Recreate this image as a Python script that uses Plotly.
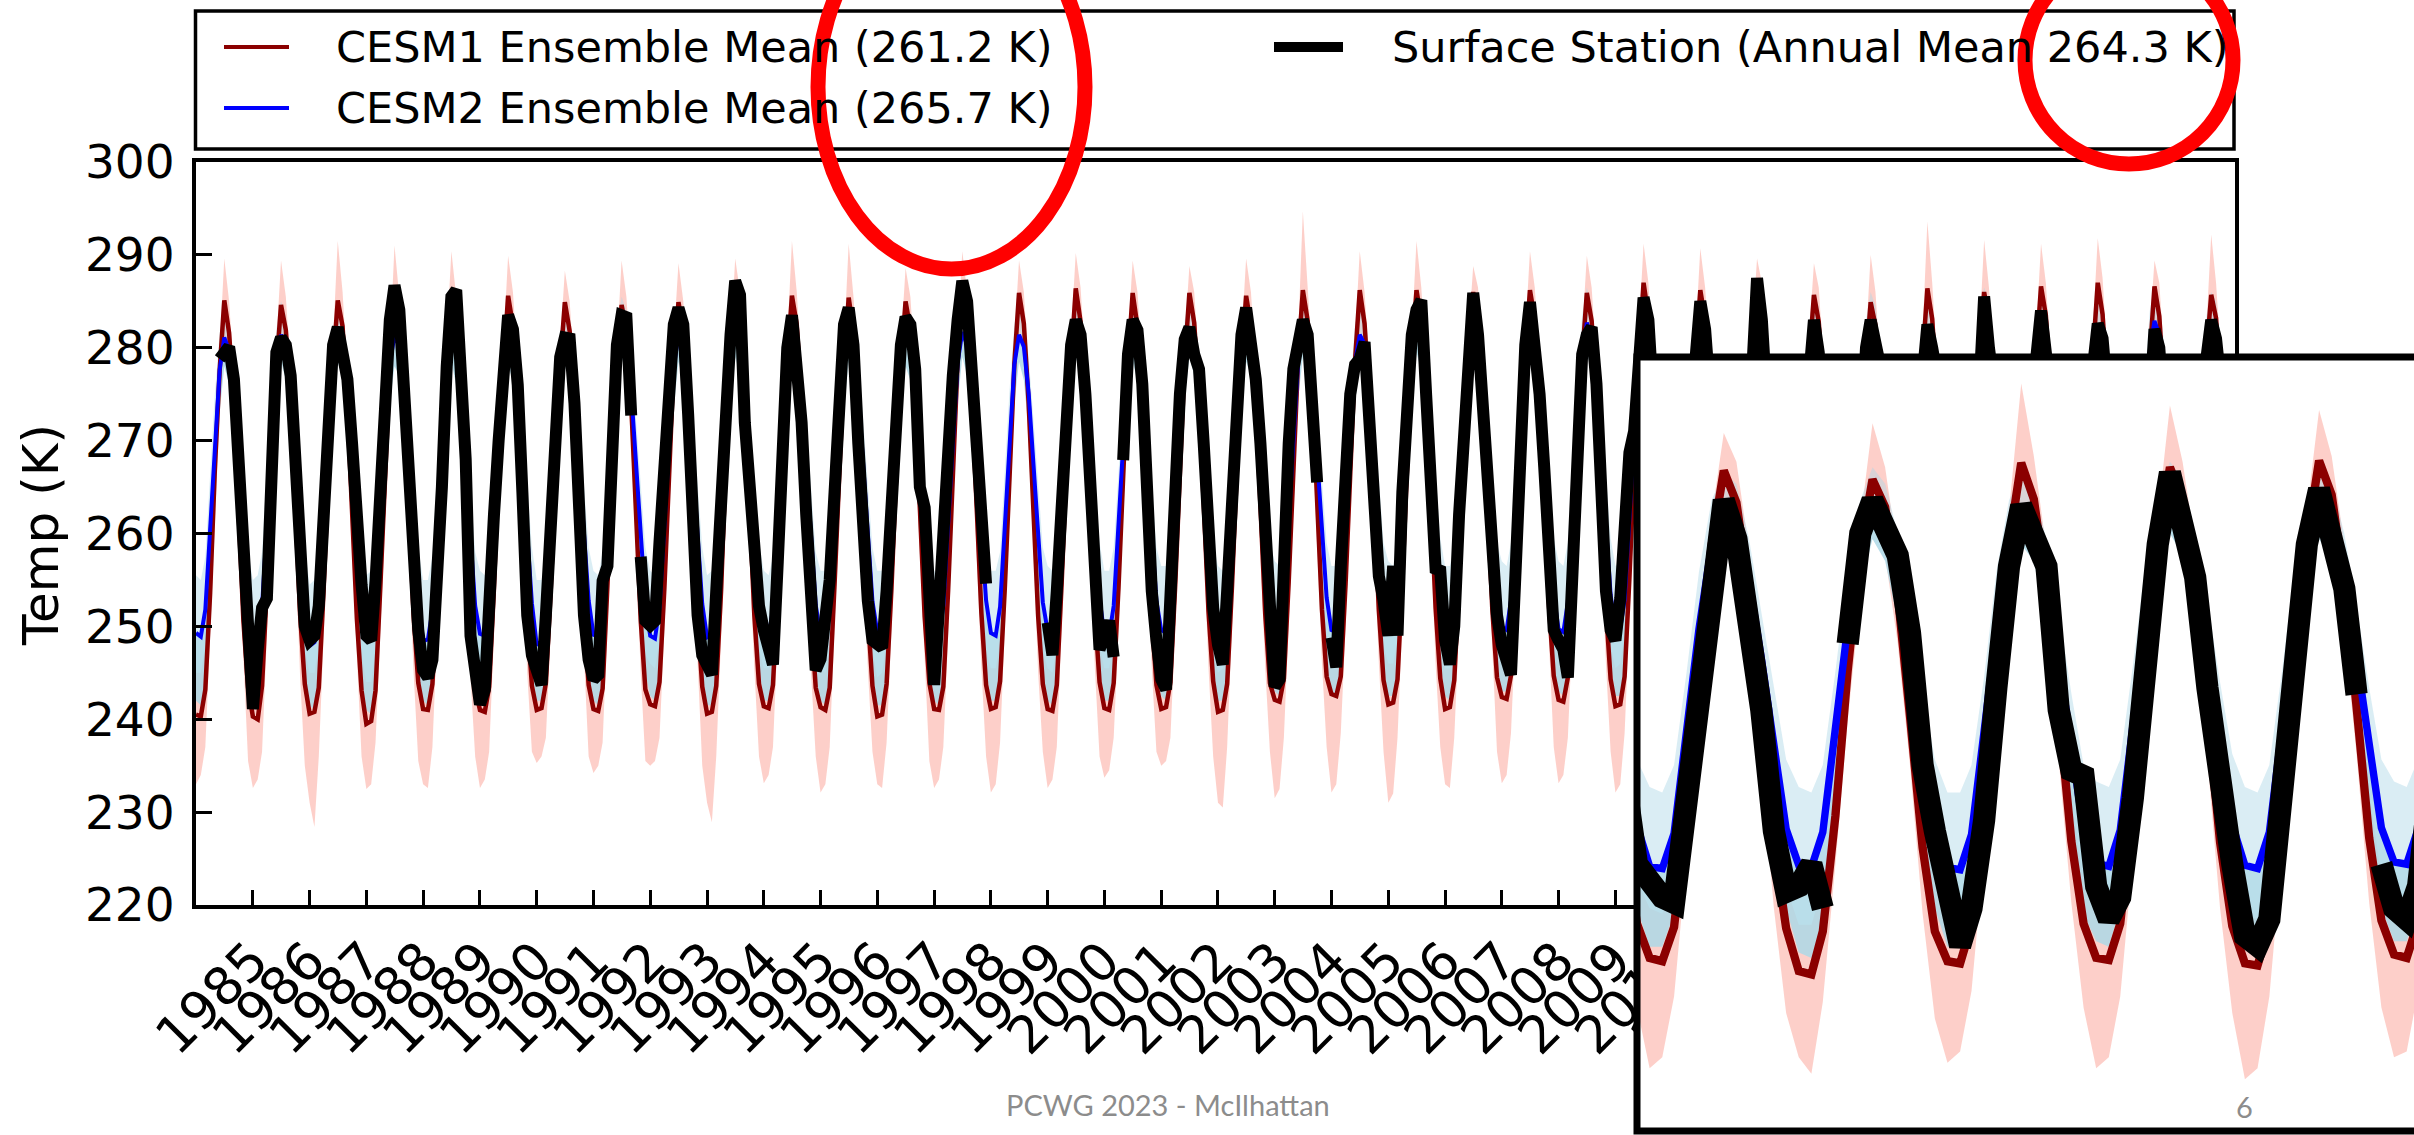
import pandas as pd
import plotly.graph_objects as go

# ---------------------------------------------------------------------------
# Monthly near-surface temperature (K), one row per year (Jan ... Dec)
# ---------------------------------------------------------------------------
years = [1984, 1985, 1986, 1987, 1988, 1989, 1990, 1991, 1992, 1993, 1994, 1995,
         1996, 1997, 1998, 1999, 2000, 2001, 2002, 2003, 2004, 2005, 2006, 2007,
         2008, 2009, 2010, 2011, 2012, 2013, 2014, 2015, 2016, 2017, 2018, 2019]

tick_years = [1985, 1986, 1987, 1988, 1989, 1990, 1991, 1992, 1993, 1994, 1995, 1996,
              1997, 1998, 1999, 2000, 2001, 2002, 2003, 2004, 2005, 2006, 2007, 2008,
              2009, 2010, 2011, 2012, 2013, 2014, 2015, 2016, 2017, 2018, 2019]
y_ticks = [220, 230, 240, 250, 260, 270, 280, 290, 300]

legend_cesm1 = "CESM1 Ensemble Mean (261.2 K)"
legend_cesm2 = "CESM2 Ensemble Mean (265.7 K)"
legend_station = "Surface Station (Annual Mean 264.3 K)"

cesm1_mean = [
    [240.5, 240.3, 243.2, 253.6, 266.8, 277.5, 285.1, 281.6, 273.8, 262.7, 250.6, 243.4],
    [240.3, 240.0, 243.6, 254.2, 266.5, 277.8, 284.6, 281.9, 274.2, 263.1, 251.2, 243.8],
    [240.6, 240.8, 243.4, 253.9, 267.3, 278.2, 285.1, 282.3, 273.6, 262.9, 250.8, 243.1],
    [239.5, 239.8, 243.1, 254.3, 266.9, 277.6, 285.5, 281.7, 274.1, 263.4, 251.3, 243.9],
    [241.1, 241.0, 243.8, 253.7, 267.1, 278.4, 285.3, 282.1, 273.9, 262.6, 250.9, 243.3],
    [241.0, 240.8, 243.5, 254.1, 267.4, 277.9, 285.6, 282.4, 274.3, 263.2, 251.1, 243.6],
    [241.0, 241.2, 243.9, 253.8, 266.7, 278.1, 284.9, 281.8, 273.7, 262.8, 251.4, 243.7],
    [241.1, 240.9, 243.3, 254.4, 267.2, 277.7, 284.6, 282.0, 274.0, 263.5, 250.7, 243.2],
    [241.6, 241.4, 244.0, 254.0, 266.9, 278.3, 284.9, 281.9, 274.4, 263.0, 251.0, 243.5],
    [240.6, 240.8, 243.6, 253.8, 267.5, 278.0, 285.5, 282.2, 273.8, 262.9, 251.2, 243.8],
    [241.4, 241.2, 243.7, 254.2, 267.0, 278.5, 285.6, 282.5, 274.2, 263.3, 250.9, 243.4],
    [241.3, 241.0, 243.4, 254.5, 267.3, 277.9, 285.4, 281.8, 273.9, 263.1, 251.3, 243.6],
    [240.3, 240.5, 243.8, 254.0, 267.1, 278.2, 285.0, 282.0, 274.1, 262.8, 251.0, 243.9],
    [241.1, 241.0, 243.5, 253.9, 267.6, 278.6, 285.6, 282.4, 274.3, 263.4, 251.4, 243.7],
    [241.1, 241.3, 244.1, 254.3, 267.2, 278.3, 285.9, 282.6, 274.0, 263.2, 251.1, 243.8],
    [241.1, 240.9, 243.7, 254.6, 267.8, 278.7, 286.4, 282.8, 274.5, 263.6, 251.5, 244.0],
    [241.2, 241.0, 243.9, 254.2, 267.4, 278.4, 285.9, 282.3, 274.2, 263.1, 251.2, 243.7],
    [241.1, 241.3, 244.0, 254.5, 267.6, 278.6, 285.9, 282.7, 274.6, 263.5, 251.6, 244.1],
    [240.8, 241.0, 243.8, 254.3, 267.3, 278.5, 285.6, 282.4, 274.3, 263.3, 251.3, 243.9],
    [242.1, 241.9, 244.4, 254.8, 267.9, 278.9, 286.2, 282.9, 274.7, 263.8, 251.8, 244.6],
    [242.7, 242.5, 244.6, 254.6, 267.7, 278.7, 286.2, 282.6, 274.5, 263.6, 251.7, 244.2],
    [241.6, 241.8, 244.3, 254.9, 268.0, 279.0, 286.2, 283.0, 274.8, 263.9, 252.0, 244.4],
    [241.1, 241.3, 244.2, 254.7, 267.8, 278.8, 286.0, 282.8, 274.6, 263.7, 251.8, 244.5],
    [242.4, 242.2, 244.7, 255.0, 268.1, 279.1, 286.2, 283.1, 275.0, 264.0, 252.1, 244.7],
    [242.1, 241.9, 244.5, 254.8, 267.9, 278.9, 285.9, 282.9, 274.8, 263.8, 251.9, 244.3],
    [241.4, 241.6, 244.6, 255.2, 268.3, 279.3, 287.0, 283.4, 275.1, 264.2, 252.3, 244.8],
    [241.8, 241.6, 244.4, 254.9, 268.0, 279.0, 286.2, 283.0, 274.9, 263.9, 252.0, 244.5],
    [242.0, 241.8, 244.8, 255.1, 268.2, 279.2, 286.0, 283.2, 275.2, 264.1, 252.2, 244.6],
    [241.5, 241.2, 244.3, 254.7, 267.9, 278.9, 285.7, 282.8, 274.7, 263.7, 251.8, 244.2],
    [240.3, 240.0, 243.9, 254.4, 267.5, 278.5, 284.9, 282.4, 274.4, 263.4, 251.5, 243.9],
    [241.2, 241.0, 244.5, 255.0, 268.1, 279.1, 286.4, 283.1, 274.9, 264.0, 252.1, 244.6],
    [241.5, 241.3, 244.6, 254.9, 268.0, 279.0, 286.0, 283.0, 275.0, 263.9, 252.0, 244.4],
    [241.0, 240.8, 244.4, 255.2, 268.4, 279.4, 286.6, 283.5, 275.3, 264.3, 252.4, 244.9],
    [241.8, 241.5, 244.7, 255.3, 268.5, 279.5, 287.0, 283.6, 275.4, 264.4, 252.5, 245.0],
    [242.0, 241.8, 244.9, 255.1, 268.3, 279.3, 286.6, 283.4, 275.2, 264.2, 252.3, 244.8],
    [242.2, 242.0, 245.0, 255.4, 268.6, 279.6, 285.7, 283.2, 275.1, 264.3, 252.4, 245.1],
]

cesm2_mean = [
    [249.3, 248.9, 251.8, 260.7, 270.2, 277.6, 281.1, 279.7, 274.6, 267.8, 259.2, 252.3],
    [248.5, 248.7, 252.1, 261.2, 270.6, 278.1, 281.4, 280.1, 275.2, 268.1, 259.6, 252.6],
    [247.9, 248.3, 251.9, 260.9, 270.4, 277.9, 281.6, 279.9, 274.9, 267.9, 259.4, 252.4],
    [248.8, 249.1, 252.3, 261.3, 270.8, 278.3, 281.3, 280.2, 275.1, 268.2, 259.7, 252.7],
    [248.4, 248.6, 251.7, 260.8, 270.3, 277.8, 281.5, 279.8, 274.7, 267.7, 259.3, 252.2],
    [249.2, 249.0, 252.2, 261.1, 270.7, 278.2, 281.2, 280.0, 275.0, 268.0, 259.5, 252.5],
    [248.0, 248.4, 251.8, 261.0, 270.5, 278.0, 281.1, 279.9, 274.8, 267.9, 259.6, 252.8],
    [249.1, 248.9, 252.0, 261.2, 270.6, 278.3, 281.8, 280.3, 275.3, 268.3, 259.8, 252.6],
    [249.0, 248.7, 252.1, 261.0, 270.4, 277.9, 281.5, 280.0, 275.1, 268.1, 259.5, 252.4],
    [248.8, 249.0, 252.3, 261.4, 270.9, 278.4, 281.9, 280.4, 275.4, 268.4, 259.9, 252.9],
    [249.2, 248.8, 251.9, 260.9, 270.3, 277.8, 281.3, 279.8, 274.9, 267.8, 259.4, 252.3],
    [249.0, 249.2, 252.2, 261.3, 270.7, 278.2, 281.6, 280.2, 275.2, 268.2, 259.7, 252.7],
    [249.4, 249.1, 252.0, 261.0, 270.5, 278.0, 281.2, 279.9, 274.9, 268.0, 259.5, 252.5],
    [249.1, 248.9, 252.3, 261.4, 270.8, 278.4, 281.7, 280.3, 275.3, 268.3, 259.8, 252.8],
    [249.3, 249.0, 252.1, 261.2, 270.6, 278.2, 281.4, 280.1, 275.1, 268.1, 259.6, 252.6],
    [249.5, 249.2, 252.4, 261.5, 270.9, 278.5, 281.8, 280.4, 275.4, 268.4, 259.9, 252.9],
    [249.2, 249.0, 252.2, 261.3, 270.7, 278.3, 281.5, 280.2, 275.2, 268.2, 259.7, 252.7],
    [249.6, 249.3, 252.5, 261.6, 271.0, 278.6, 281.9, 280.5, 275.5, 268.5, 260.0, 253.0],
    [249.4, 249.1, 252.3, 261.4, 270.8, 278.4, 281.6, 280.3, 275.3, 268.3, 259.8, 252.8],
    [250.1, 249.8, 252.6, 261.7, 271.1, 278.7, 282.0, 280.6, 275.6, 268.6, 260.1, 253.1],
    [249.6, 249.4, 252.4, 261.5, 270.9, 278.5, 281.4, 280.4, 275.4, 268.4, 259.9, 252.9],
    [249.8, 249.5, 252.7, 261.8, 271.2, 278.8, 282.2, 280.7, 275.7, 268.7, 260.2, 253.2],
    [249.5, 249.3, 252.5, 261.6, 271.0, 278.6, 281.8, 280.5, 275.5, 268.5, 260.0, 253.0],
    [249.9, 249.6, 252.8, 261.9, 271.3, 278.9, 282.1, 280.8, 275.8, 268.8, 260.3, 253.3],
    [249.7, 249.4, 252.6, 261.8, 271.4, 279.1, 282.7, 281.0, 275.9, 268.9, 260.4, 253.4],
    [249.6, 249.8, 252.9, 262.0, 271.5, 279.0, 282.3, 280.9, 275.9, 268.9, 260.4, 253.4],
    [249.8, 249.5, 252.7, 261.8, 271.2, 278.8, 281.9, 280.6, 275.6, 268.6, 260.1, 253.1],
    [250.0, 249.7, 253.0, 262.1, 271.6, 279.2, 282.4, 281.0, 276.0, 269.0, 260.5, 253.5],
    [249.8, 249.6, 252.8, 261.9, 271.3, 278.9, 282.0, 280.7, 275.7, 268.7, 260.2, 253.2],
    [249.9, 249.7, 252.9, 262.0, 271.5, 279.1, 282.2, 280.9, 275.9, 268.9, 260.4, 253.4],
    [249.7, 249.5, 252.7, 261.8, 271.2, 278.8, 281.7, 280.6, 275.6, 268.6, 260.1, 253.1],
    [250.1, 249.8, 253.1, 262.2, 271.7, 279.3, 282.5, 281.1, 276.1, 269.1, 260.6, 253.6],
    [249.9, 249.6, 252.9, 262.0, 271.4, 279.0, 282.1, 280.8, 275.8, 268.8, 260.3, 253.3],
    [250.2, 250.0, 253.2, 262.3, 271.8, 279.4, 282.6, 281.2, 276.2, 269.2, 260.7, 253.7],
    [250.3, 250.1, 253.3, 262.4, 271.9, 279.6, 282.9, 281.4, 276.3, 269.3, 260.8, 253.8],
    [250.1, 249.9, 253.1, 262.2, 271.6, 279.2, 282.3, 281.0, 276.0, 269.0, 260.5, 253.5],
]

# spread of the CESM1 members (lowest / highest member each month)
cesm1_lo = [
    [233.0, 234.0, 237.0, 249.0, 262.0, 273.0, 280.5, 277.0, 269.0, 258.0, 245.0, 235.5],
    [232.6, 233.5, 236.5, 249.5, 262.0, 273.5, 280.0, 277.5, 269.5, 258.5, 244.5, 235.0],
    [231.0, 228.4, 236.0, 249.0, 262.5, 274.0, 280.5, 277.0, 269.0, 258.0, 245.5, 236.0],
    [232.5, 233.0, 237.5, 249.0, 261.5, 273.0, 281.0, 277.5, 269.5, 258.0, 245.0, 235.5],
    [233.0, 232.6, 237.0, 249.5, 262.0, 274.0, 281.0, 277.0, 269.0, 257.5, 244.5, 236.0],
    [232.6, 233.5, 236.5, 249.0, 262.5, 273.5, 281.0, 278.0, 270.0, 258.5, 245.0, 236.5],
    [235.3, 236.0, 238.0, 249.5, 262.0, 273.5, 280.5, 277.5, 269.0, 258.0, 245.5, 236.0],
    [234.2, 235.0, 237.5, 250.0, 262.5, 273.0, 280.0, 277.5, 269.5, 258.5, 245.0, 235.5],
    [235.0, 235.5, 238.0, 249.5, 262.0, 274.0, 280.5, 277.0, 269.0, 258.0, 245.0, 235.0],
    [231.0, 228.9, 236.0, 249.0, 262.5, 273.5, 281.0, 277.5, 269.5, 258.0, 245.5, 236.0],
    [233.1, 234.0, 237.0, 249.5, 262.0, 274.0, 281.0, 278.0, 270.0, 258.5, 245.0, 236.0],
    [232.1, 233.0, 237.0, 250.0, 262.5, 273.5, 281.0, 277.5, 269.5, 258.5, 245.5, 236.5],
    [233.0, 232.6, 237.5, 249.5, 262.0, 273.5, 280.5, 277.5, 269.0, 258.0, 245.0, 235.5],
    [232.6, 233.5, 237.0, 249.0, 262.5, 274.0, 281.0, 278.0, 270.0, 258.5, 245.5, 236.0],
    [232.1, 233.0, 237.5, 250.0, 262.5, 274.0, 281.5, 278.0, 269.5, 258.5, 245.0, 236.5],
    [232.6, 233.5, 237.0, 250.0, 263.0, 274.5, 282.0, 278.5, 270.0, 259.0, 245.5, 236.0],
    [233.7, 234.5, 238.0, 249.5, 262.5, 274.0, 281.5, 278.0, 269.5, 258.5, 245.5, 236.5],
    [235.0, 235.5, 238.0, 250.0, 263.0, 274.0, 281.5, 278.0, 270.0, 259.0, 245.5, 236.0],
    [231.0, 230.5, 237.0, 250.0, 262.5, 274.0, 281.0, 278.0, 270.0, 258.5, 245.5, 236.5],
    [231.5, 232.5, 238.0, 250.5, 263.0, 274.5, 282.0, 278.5, 270.5, 259.0, 246.0, 237.0],
    [232.1, 233.0, 238.5, 250.0, 263.0, 274.0, 281.5, 278.0, 270.0, 259.0, 246.0, 236.5],
    [231.0, 232.0, 238.0, 250.5, 263.5, 274.5, 282.0, 278.5, 270.5, 259.5, 246.0, 237.0],
    [233.0, 232.6, 238.0, 250.0, 263.0, 274.5, 281.5, 278.5, 270.0, 259.0, 246.0, 236.5],
    [233.1, 234.0, 238.5, 250.5, 263.5, 274.5, 282.0, 278.5, 270.5, 259.5, 246.5, 237.0],
    [233.1, 234.0, 238.0, 250.5, 263.0, 274.5, 281.5, 278.5, 270.5, 259.0, 246.0, 236.5],
    [232.1, 233.0, 238.5, 251.0, 263.5, 275.0, 282.5, 279.0, 271.0, 259.5, 246.5, 237.0],
    [232.0, 233.5, 238.0, 250.5, 263.5, 274.5, 282.0, 278.5, 270.5, 259.5, 246.0, 236.5],
    [233.0, 232.0, 238.5, 251.0, 263.5, 275.0, 281.5, 279.0, 271.0, 259.5, 246.5, 237.0],
    [231.5, 232.5, 238.0, 250.5, 263.0, 274.5, 281.5, 278.5, 270.5, 259.0, 246.0, 236.5],
    [232.5, 231.0, 237.5, 250.0, 263.0, 274.0, 281.0, 278.0, 270.0, 259.0, 245.5, 236.0],
    [232.0, 233.0, 238.5, 251.0, 263.5, 275.0, 282.0, 279.0, 270.5, 259.5, 246.5, 237.0],
    [231.5, 232.5, 238.0, 250.5, 263.5, 274.5, 281.5, 278.5, 271.0, 259.5, 246.0, 236.5],
    [230.5, 231.5, 238.0, 251.0, 264.0, 275.0, 282.5, 279.0, 271.0, 260.0, 246.5, 237.0],
    [232.5, 233.0, 238.5, 251.0, 264.0, 275.0, 282.5, 279.5, 271.5, 260.0, 247.0, 237.5],
    [233.0, 232.0, 238.5, 251.0, 263.5, 275.0, 282.0, 279.0, 271.0, 259.5, 246.5, 237.0],
    [232.5, 233.5, 239.0, 251.5, 264.0, 275.5, 281.5, 279.0, 271.0, 260.0, 247.0, 237.5],
]

cesm1_hi = [
    [245.0, 245.0, 248.0, 257.5, 270.0, 280.0, 289.6, 285.0, 277.0, 266.0, 254.5, 247.0],
    [244.5, 244.5, 248.0, 258.0, 270.0, 280.5, 289.4, 285.5, 277.5, 266.5, 255.0, 247.5],
    [245.0, 245.0, 248.0, 257.5, 270.5, 281.0, 291.5, 286.0, 277.0, 266.0, 254.5, 247.0],
    [244.0, 244.0, 247.5, 258.0, 270.5, 280.0, 291.0, 285.5, 277.5, 267.0, 255.0, 247.5],
    [245.5, 245.0, 248.0, 257.5, 270.5, 281.0, 290.4, 285.5, 277.0, 266.0, 254.5, 247.0],
    [245.0, 245.0, 248.0, 258.0, 271.0, 280.5, 289.9, 286.0, 278.0, 266.5, 255.0, 247.5],
    [245.5, 245.5, 248.5, 257.5, 270.0, 280.5, 288.3, 285.0, 277.0, 266.0, 255.0, 247.5],
    [245.5, 245.0, 247.5, 258.0, 270.5, 280.0, 289.4, 285.5, 277.5, 267.0, 254.5, 247.0],
    [246.0, 245.5, 248.5, 258.0, 270.5, 281.0, 289.1, 285.0, 278.0, 266.5, 254.5, 247.0],
    [245.0, 245.0, 248.0, 257.5, 271.0, 280.5, 289.6, 286.0, 277.0, 266.5, 255.0, 247.5],
    [245.5, 245.5, 248.0, 258.0, 270.5, 281.0, 291.5, 286.0, 277.5, 267.0, 254.5, 247.0],
    [245.5, 245.0, 248.0, 258.5, 271.0, 280.5, 291.2, 285.5, 277.5, 266.5, 255.0, 247.5],
    [244.5, 245.0, 248.5, 258.0, 270.5, 280.5, 288.6, 285.5, 277.5, 266.0, 254.5, 247.5],
    [245.5, 245.0, 248.0, 258.0, 271.0, 281.0, 290.4, 286.0, 278.0, 267.0, 255.0, 247.5],
    [245.5, 245.5, 248.5, 258.5, 270.5, 281.0, 289.4, 286.0, 277.5, 266.5, 254.5, 247.5],
    [245.5, 245.0, 248.0, 258.5, 271.5, 281.5, 290.2, 286.5, 278.0, 267.0, 255.0, 248.0],
    [245.5, 245.5, 248.5, 258.0, 271.0, 281.0, 289.4, 286.0, 278.0, 266.5, 255.0, 247.5],
    [245.5, 245.5, 248.5, 258.5, 271.0, 281.0, 288.8, 286.0, 278.0, 267.0, 255.0, 248.0],
    [245.0, 245.5, 248.0, 258.0, 271.0, 281.0, 289.6, 286.0, 278.0, 267.0, 255.0, 247.5],
    [246.5, 246.0, 249.0, 259.0, 271.5, 281.5, 294.7, 286.5, 278.5, 267.5, 255.5, 248.5],
    [247.0, 246.5, 249.0, 258.5, 271.0, 281.0, 290.4, 286.0, 278.0, 267.0, 255.5, 248.0],
    [246.0, 246.0, 248.5, 259.0, 271.5, 281.5, 291.5, 286.5, 278.5, 267.5, 256.0, 248.5],
    [245.5, 245.5, 248.5, 258.5, 271.5, 281.5, 288.8, 286.5, 278.0, 267.0, 255.5, 248.5],
    [246.5, 246.5, 249.0, 259.0, 271.5, 281.5, 290.4, 286.5, 278.5, 267.5, 256.0, 248.5],
    [246.5, 246.0, 249.0, 258.5, 271.5, 281.5, 289.9, 286.5, 278.5, 267.5, 255.5, 248.0],
    [245.5, 246.0, 249.0, 259.0, 272.0, 282.0, 291.2, 287.0, 278.5, 268.0, 256.0, 248.5],
    [246.0, 246.0, 248.5, 259.0, 271.5, 281.5, 290.7, 286.5, 278.5, 267.5, 256.0, 248.5],
    [246.5, 246.0, 249.0, 259.0, 272.0, 282.0, 289.6, 287.0, 279.0, 268.0, 256.0, 248.5],
    [246.0, 245.5, 248.5, 258.5, 271.5, 281.5, 289.1, 286.5, 278.5, 267.5, 255.5, 248.0],
    [244.5, 244.5, 248.0, 258.5, 271.0, 281.0, 290.0, 286.0, 278.0, 267.0, 255.5, 248.0],
    [245.5, 245.5, 249.0, 259.0, 272.0, 282.0, 293.6, 287.0, 278.5, 268.0, 256.0, 248.5],
    [246.0, 245.5, 249.0, 259.0, 271.5, 281.5, 291.6, 286.5, 279.0, 267.5, 256.0, 248.5],
    [245.5, 245.0, 248.5, 259.0, 272.0, 282.0, 291.2, 287.0, 279.0, 268.0, 256.5, 249.0],
    [246.0, 246.0, 249.0, 259.5, 272.0, 282.5, 291.8, 287.5, 279.0, 268.0, 256.5, 249.0],
    [246.5, 246.0, 249.0, 259.0, 272.0, 282.0, 289.4, 287.0, 279.0, 268.0, 256.0, 248.5],
    [246.5, 246.5, 249.5, 259.5, 272.5, 282.5, 292.2, 287.0, 279.0, 268.0, 256.5, 249.0],
]

# spread of the CESM2 members
cesm2_lo = [
    [242.0, 241.5, 243.5, 253.5, 264.0, 273.0, 278.0, 276.0, 270.5, 262.5, 251.0, 244.5],
    [241.5, 241.0, 244.0, 254.0, 264.5, 273.5, 278.5, 276.5, 271.0, 263.0, 251.5, 245.0],
    [241.5, 241.0, 243.5, 253.5, 264.0, 273.5, 278.5, 276.5, 270.5, 262.5, 251.0, 244.5],
    [241.0, 240.5, 244.0, 254.0, 265.0, 274.0, 278.0, 277.0, 271.0, 263.0, 251.5, 245.0],
    [242.0, 241.5, 243.5, 253.5, 264.5, 273.5, 278.5, 276.0, 270.5, 262.5, 251.0, 244.5],
    [242.0, 241.5, 244.0, 254.0, 264.5, 273.5, 278.0, 276.5, 271.0, 263.0, 251.5, 245.0],
    [242.0, 242.0, 244.0, 253.5, 264.0, 273.5, 278.0, 276.5, 270.5, 262.5, 251.5, 245.0],
    [242.0, 241.5, 244.0, 254.0, 264.5, 273.5, 279.0, 277.0, 271.0, 263.0, 251.5, 245.0],
    [242.5, 242.0, 244.5, 254.0, 264.5, 273.5, 278.5, 276.5, 271.0, 263.0, 251.5, 245.0],
    [241.5, 241.5, 244.0, 254.5, 265.0, 274.0, 279.0, 277.0, 271.5, 263.5, 252.0, 245.5],
    [242.0, 242.0, 244.0, 253.5, 264.0, 273.0, 278.5, 276.5, 270.5, 262.5, 251.0, 244.5],
    [242.0, 241.5, 244.0, 254.0, 264.5, 273.5, 278.5, 276.5, 271.0, 263.0, 251.5, 245.0],
    [241.5, 241.5, 244.0, 254.0, 264.5, 273.5, 278.0, 276.5, 270.5, 263.0, 251.5, 245.0],
    [242.0, 241.5, 244.5, 254.5, 265.0, 274.0, 279.0, 277.0, 271.5, 263.5, 252.0, 245.5],
    [242.0, 242.0, 244.5, 254.0, 264.5, 274.0, 278.5, 276.5, 271.0, 263.0, 251.5, 245.0],
    [242.0, 241.5, 244.5, 254.5, 265.0, 274.0, 279.0, 277.0, 271.5, 263.5, 252.0, 245.5],
    [242.0, 242.0, 244.5, 254.0, 264.5, 274.0, 278.5, 276.5, 271.0, 263.0, 251.5, 245.0],
    [242.5, 242.0, 244.5, 254.5, 265.0, 274.5, 279.0, 277.0, 271.5, 263.5, 252.0, 245.5],
    [242.0, 242.0, 244.5, 254.0, 265.0, 274.0, 278.5, 277.0, 271.0, 263.5, 252.0, 245.5],
    [243.0, 242.5, 245.0, 254.5, 265.0, 274.5, 279.0, 277.5, 271.5, 263.5, 252.0, 245.5],
    [243.0, 242.5, 245.0, 254.5, 265.0, 274.0, 278.5, 277.0, 271.5, 263.5, 252.0, 245.5],
    [242.5, 242.5, 245.0, 255.0, 265.5, 274.5, 279.5, 277.5, 272.0, 264.0, 252.5, 246.0],
    [242.5, 242.0, 245.0, 254.5, 265.0, 274.5, 279.0, 277.0, 271.5, 263.5, 252.0, 245.5],
    [243.0, 243.0, 245.5, 255.0, 265.5, 275.0, 279.5, 277.5, 272.0, 264.0, 252.5, 246.0],
    [243.0, 242.5, 245.0, 255.0, 265.5, 275.0, 279.5, 277.5, 272.0, 264.0, 252.5, 246.0],
    [242.5, 242.5, 245.5, 255.0, 265.5, 275.0, 279.5, 277.5, 272.0, 264.0, 252.5, 246.0],
    [243.0, 242.5, 245.0, 255.0, 265.5, 274.5, 279.0, 277.5, 271.5, 263.5, 252.0, 245.5],
    [243.0, 243.0, 245.5, 255.0, 266.0, 275.0, 279.5, 278.0, 272.0, 264.0, 252.5, 246.0],
    [242.5, 242.5, 245.5, 255.0, 265.5, 275.0, 279.0, 277.5, 272.0, 264.0, 252.5, 246.0],
    [242.0, 241.5, 245.0, 255.0, 265.5, 275.0, 279.5, 277.5, 272.0, 264.0, 252.5, 246.0],
    [242.5, 242.5, 245.5, 255.0, 265.5, 274.5, 279.0, 277.5, 271.5, 263.5, 252.0, 245.5],
    [243.0, 242.5, 246.0, 255.5, 266.0, 275.5, 280.0, 278.0, 272.5, 264.5, 253.0, 246.5],
    [242.5, 242.0, 245.5, 255.0, 265.5, 275.0, 279.5, 277.5, 272.0, 264.0, 252.5, 246.0],
    [243.0, 243.0, 246.0, 255.5, 266.0, 275.5, 280.0, 278.0, 272.5, 264.5, 253.0, 246.5],
    [243.5, 243.0, 246.0, 255.5, 266.5, 275.5, 280.0, 278.5, 272.5, 264.5, 253.0, 246.5],
    [243.0, 243.0, 246.0, 255.5, 266.0, 275.5, 279.5, 278.0, 272.5, 264.5, 253.0, 246.5],
]

cesm2_hi = [
    [255.5, 255.0, 257.5, 266.0, 275.0, 281.5, 284.5, 283.0, 278.5, 272.0, 264.5, 258.0],
    [255.0, 255.5, 258.0, 266.5, 275.5, 282.0, 285.0, 283.5, 279.0, 272.5, 265.0, 258.5],
    [254.5, 255.0, 257.5, 266.0, 275.0, 282.0, 285.0, 283.5, 278.5, 272.0, 264.5, 258.0],
    [255.5, 256.0, 258.5, 266.5, 276.0, 282.5, 284.5, 284.0, 279.0, 272.5, 265.0, 258.5],
    [255.0, 255.0, 257.5, 266.0, 275.5, 282.0, 285.0, 283.0, 278.5, 272.0, 264.5, 258.0],
    [256.0, 255.5, 258.0, 266.5, 275.5, 282.0, 284.5, 283.5, 279.0, 272.5, 265.0, 258.5],
    [255.0, 255.0, 257.5, 266.5, 275.5, 282.0, 284.5, 283.5, 278.5, 272.0, 265.0, 258.5],
    [256.0, 255.5, 258.0, 266.5, 275.5, 282.5, 285.5, 284.0, 279.0, 272.5, 265.0, 258.5],
    [256.0, 255.5, 258.0, 266.5, 275.5, 282.0, 285.0, 283.5, 279.0, 272.5, 265.0, 258.5],
    [255.5, 256.0, 258.5, 267.0, 276.0, 282.5, 285.5, 284.0, 279.5, 273.0, 265.5, 259.0],
    [256.0, 255.5, 257.5, 266.0, 275.0, 281.5, 284.5, 283.0, 278.5, 272.0, 264.5, 258.0],
    [256.0, 256.0, 258.0, 266.5, 275.5, 282.0, 285.0, 283.5, 279.0, 272.5, 265.0, 258.5],
    [256.0, 256.0, 258.0, 266.5, 275.5, 282.0, 284.5, 283.5, 278.5, 272.5, 265.0, 258.5],
    [256.0, 255.5, 258.5, 267.0, 276.0, 282.5, 285.5, 284.0, 279.5, 273.0, 265.5, 259.0],
    [256.0, 256.0, 258.0, 266.5, 275.5, 282.5, 285.0, 283.5, 279.0, 272.5, 265.0, 258.5],
    [256.5, 256.0, 258.5, 267.0, 276.0, 282.5, 285.5, 284.0, 279.5, 273.0, 265.5, 259.0],
    [256.0, 256.0, 258.5, 266.5, 275.5, 282.5, 285.0, 283.5, 279.0, 272.5, 265.0, 258.5],
    [256.5, 256.5, 258.5, 267.0, 276.0, 283.0, 285.5, 284.0, 279.5, 273.0, 265.5, 259.0],
    [256.5, 256.0, 258.5, 267.0, 276.0, 282.5, 285.0, 284.0, 279.5, 273.0, 265.5, 259.0],
    [257.0, 256.5, 259.0, 267.0, 276.5, 283.0, 285.5, 284.5, 279.5, 273.0, 265.5, 259.0],
    [256.5, 256.5, 258.5, 267.0, 276.0, 282.5, 285.0, 284.0, 279.5, 273.0, 265.5, 259.0],
    [257.0, 256.5, 259.0, 267.5, 276.5, 283.0, 286.0, 284.5, 280.0, 273.5, 266.0, 259.5],
    [256.5, 256.5, 259.0, 267.0, 276.0, 283.0, 285.5, 284.0, 279.5, 273.0, 265.5, 259.0],
    [257.0, 256.5, 259.0, 267.5, 276.5, 283.0, 286.0, 284.5, 280.0, 273.5, 266.0, 259.5],
    [257.0, 256.5, 259.0, 267.5, 276.5, 283.5, 286.5, 284.5, 280.0, 273.5, 266.0, 259.5],
    [256.5, 257.0, 259.0, 267.5, 276.5, 283.0, 286.0, 284.5, 280.0, 273.5, 266.0, 259.5],
    [257.0, 256.5, 259.0, 267.5, 276.5, 283.0, 285.5, 284.0, 279.5, 273.0, 265.5, 259.0],
    [257.0, 257.0, 259.5, 267.5, 277.0, 283.5, 286.0, 284.5, 280.0, 273.5, 266.0, 259.5],
    [257.0, 256.5, 259.0, 267.5, 276.5, 283.0, 285.5, 284.5, 279.5, 273.0, 266.0, 259.5],
    [257.0, 256.5, 259.0, 267.5, 276.5, 283.0, 286.0, 284.5, 280.0, 273.5, 266.0, 259.5],
    [256.5, 256.5, 259.0, 267.0, 276.5, 283.0, 285.5, 284.0, 279.5, 273.0, 265.5, 259.0],
    [257.5, 257.0, 259.5, 268.0, 277.0, 283.5, 286.5, 285.0, 280.0, 274.0, 266.5, 260.0],
    [257.0, 256.5, 259.0, 267.5, 276.5, 283.0, 286.0, 284.5, 280.0, 273.5, 266.0, 259.5],
    [257.5, 257.0, 259.5, 268.0, 277.0, 283.5, 286.5, 285.0, 280.5, 274.0, 266.5, 260.0],
    [257.5, 257.5, 260.0, 268.0, 277.0, 284.0, 286.5, 285.0, 280.5, 274.0, 266.5, 260.0],
    [257.5, 257.0, 259.5, 268.0, 277.0, 283.5, 286.0, 285.0, 280.5, 274.0, 266.5, 260.0],
]

# surface station record (None = no observations)
station = [
    [None, None, None, None, None, 278.8, 279.5, 280.1, 276.6, 268.7, 258.0, 252.2],
    [241.1, 247.5, 252.0, 253.0, 269.0, 279.5, 281.1, 280.3, 277.0, 268.0, 255.0, 250.0],
    [248.5, 249.0, 252.2, 261.8, 271.9, 280.3, 282.2, 279.3, 276.6, 269.7, 259.1, 254.5],
    [249.0, 248.5, 254.9, 267.1, 273.4, 283.0, 286.7, 284.1, 275.0, 264.4, 253.8, 249.6],
    [245.3, 244.5, 246.4, 255.0, 265.0, 278.0, 285.5, 286.2, 277.7, 268.0, 249.0, 246.0],
    [241.6, 243.2, 254.0, 262.0, 270.0, 279.3, 283.5, 282.0, 276.0, 264.4, 251.2, 246.9],
    [245.3, 243.7, 251.2, 261.8, 275.0, 279.0, 281.1, 281.0, 274.0, 261.8, 251.2, 246.4],
    [244.3, 244.8, 254.9, 256.5, 269.7, 280.3, 283.5, 283.3, 272.7, None, 257.5, 250.6],
    [250.1, 250.6, 259.1, 267.6, 276.1, 282.5, 284.3, 282.5, 272.9, 260.2, 251.2, 246.9],
    [245.5, 244.8, 253.8, 264.4, 272.4, 281.4, 287.2, 285.7, 271.9, 264.4, 254.9, 252.2],
    [249.6, 247.5, 245.9, 257.0, 270.0, 280.0, 283.5, 279.0, 272.0, 262.0, 252.0, 245.3],
    [246.5, 251.2, 255.0, 264.4, 276.1, 282.5, 284.3, 280.3, 269.7, 260.2, 252.8, 248.5],
    [248.0, 247.7, 253.8, 264.4, 275.0, 280.3, 283.3, 282.5, 277.7, 265.0, 262.8, 251.2],
    [243.7, 252.0, 262.0, 270.0, 277.0, 283.0, 287.2, 285.0, 276.0, 268.0, 262.0, 254.6],
    [None, None, None, None, None, None, None, None, None, None, None, None],
    [250.4, 246.9, 253.8, 264.4, 275.0, 280.3, 283.0, 281.4, 275.0, 264.4, 254.9, 247.5],
    [249.0, 250.6, 246.7, None, 267.9, 279.3, 283.0, 281.9, 276.1, 264.4, 253.8, 248.5],
    [244.3, 243.2, 253.8, 264.4, 275.0, 280.9, 282.2, 279.3, 277.7, 269.7, 258.6, 252.0],
    [248.0, 245.9, 253.8, 264.4, 275.0, 281.4, 284.3, 280.3, 276.6, 269.7, 259.1, 248.5],
    [243.5, 244.3, 259.1, 269.7, 277.7, 281.4, 283.0, 281.4, 275.0, 265.5, None, None],
    [248.8, 245.6, 256.5, 267.1, 275.0, 278.2, 278.8, 280.6, 272.4, 264.4, 255.4, 252.8],
    [249.0, 256.5, 249.0, 264.4, 275.0, 281.4, 284.1, 285.1, 275.0, 264.4, 256.2, 256.0],
    [248.5, 245.9, 250.0, 262.0, 272.0, 281.0, 285.9, 281.4, 274.0, 267.1, 257.5, 251.2],
    [248.0, 246.0, 244.8, 256.5, 269.7, 280.3, 284.9, 280.3, 275.0, 267.1, 256.5, 249.6],
    [248.5, 247.5, 244.5, 256.5, 269.7, 279.3, 281.4, 282.2, 276.1, 264.4, 253.8, 249.6],
    [248.5, 253.0, 262.0, 268.7, 271.0, 280.0, 285.4, 283.0, 276.0, 266.0, 256.0, 250.0],
    [247.0, 246.0, 250.0, 259.0, 270.0, 279.0, 285.0, 282.0, 275.0, 265.0, 255.0, 249.0],
    [245.0, 244.0, 248.0, 258.0, 270.0, 280.0, 287.5, 283.0, 276.0, 266.0, 256.0, 250.0],
    [248.5, 247.0, 246.5, 256.0, 268.0, 277.0, 283.0, 279.5, 272.0, 264.0, 253.0, 247.5],
    [248.0, 250.0, 246.0, None, 270.0, 280.0, 283.0, 281.0, 278.0, 271.0, 259.0, 253.0],
    [247.0, 242.6, 246.0, 254.0, 266.0, 277.0, 282.5, 280.0, 277.0, 264.0, 258.5, 258.0],
    [248.0, 245.0, 247.0, 256.0, 268.0, 279.0, 285.5, 280.0, 276.0, 266.0, 257.0, 250.0],
    [243.5, 242.6, 245.0, 257.0, 270.0, 279.0, 284.0, 279.0, 275.0, 265.4, None, 250.0],
    [246.0, 245.0, 248.0, 258.0, 269.0, 278.0, 282.6, 281.0, 275.0, 266.0, 256.0, 250.0],
    [247.0, 245.0, 249.0, 258.0, 268.0, 277.0, 282.0, 280.0, 274.0, 265.0, 256.0, 250.0],
    [246.0, 244.0, 249.0, 259.0, 270.0, 279.0, 283.0, 281.0, 276.0, 267.0, 257.0, 251.0],
]


def flatten(rows):
    return [v for row in rows for v in row]


# first-of-month time stamps for every row entry
months = pd.date_range(f"{years[0]}-01-01", periods=12 * len(years), freq="MS")

# ---------------------------------------------------------------------------
# Styling
# ---------------------------------------------------------------------------
W, H = 2414, 1135
DARKRED = "#8B0000"
BLUE = "#0000FF"
SALMON = "rgba(250,128,114,0.38)"
LIGHTBLUE_CORE = "rgba(173,216,230,0.85)"
LIGHTBLUE_EDGE = "rgba(173,216,230,0.45)"
CLEAR = "rgba(0,0,0,0)"
AXIS_FONT = "DejaVu Sans"


def fx(px):
    """Horizontal pixel -> paper fraction."""
    return px / W


def fy(px):
    """Vertical pixel (from top) -> paper fraction."""
    return 1 - px / H


fig = go.Figure()


def add_panel(xa, ya, k):
    """Ensemble spread bands, ensemble means and station record on one subplot."""
    base = dict(x=months, xaxis=xa, yaxis=ya, mode="lines",
                hoverinfo="skip", showlegend=False)
    # CESM1 members
    fig.add_trace(go.Scatter(y=flatten(cesm1_lo), line=dict(width=0, color=CLEAR), **base))
    fig.add_trace(go.Scatter(y=flatten(cesm1_mean), fill="tonexty", fillcolor=SALMON,
                             line=dict(width=0, color=CLEAR), **base))
    fig.add_trace(go.Scatter(y=flatten(cesm1_hi), fill="tonexty", fillcolor=SALMON,
                             line=dict(width=0, color=CLEAR), **base))
    # CESM2 members
    fig.add_trace(go.Scatter(y=flatten(cesm2_lo), line=dict(width=0, color=CLEAR), **base))
    fig.add_trace(go.Scatter(y=flatten(cesm2_mean), fill="tonexty", fillcolor=LIGHTBLUE_CORE,
                             line=dict(width=0, color=CLEAR), **base))
    fig.add_trace(go.Scatter(y=flatten(cesm2_hi), fill="tonexty", fillcolor=LIGHTBLUE_EDGE,
                             line=dict(width=0, color=CLEAR), **base))
    # ensemble means and observations
    fig.add_trace(go.Scatter(y=flatten(cesm1_mean), name=legend_cesm1,
                             line=dict(color=DARKRED, width=4.5 * k), **base))
    fig.add_trace(go.Scatter(y=flatten(cesm2_mean), name=legend_cesm2,
                             line=dict(color=BLUE, width=4 * k), **base))
    fig.add_trace(go.Scatter(y=flatten(station), name=legend_station, connectgaps=False,
                             line=dict(color="black", width=12 * k), **base))


add_panel("x", "y", 1.0)      # full record
add_panel("x2", "y2", 1.85)   # magnified view of 2012-2016

fig.update_layout(
    width=W, height=H,
    margin=dict(l=0, r=0, t=0, b=0, autoexpand=False),
    paper_bgcolor="white", plot_bgcolor="white",
    showlegend=False,
    font=dict(family=AXIS_FONT, color="black"),
    xaxis=dict(
        domain=[fx(196), fx(2235)], anchor="y", type="date", automargin=False,
        range=["1984-01-01", "2019-12-01"],
        tickmode="array",
        tickvals=[f"{y}-01-01" for y in tick_years],
        ticktext=[str(y) for y in tick_years],
        tickangle=-45, ticks="inside", ticklen=15, tickwidth=3, tickcolor="black",
        tickfont=dict(family=AXIS_FONT, size=52, color="black"),
        showline=True, linecolor="black", linewidth=4, mirror=True,
        showgrid=False, zeroline=False,
    ),
    yaxis=dict(
        domain=[fy(905), fy(162)], anchor="x", automargin=False,
        range=[220, 300], tickmode="array", tickvals=y_ticks,
        ticktext=[str(v) for v in y_ticks],
        ticks="inside", ticklen=16, tickwidth=3, tickcolor="black",
        tickfont=dict(family=AXIS_FONT, size=47, color="black"),
        ticklabelstandoff=8,
        showline=True, linecolor="black", linewidth=4, mirror=True,
        showgrid=False, zeroline=False,
    ),
    xaxis2=dict(
        domain=[fx(1637), 1.0], anchor="y2", type="date", automargin=False,
        range=["2011-12-01", "2017-02-19"], visible=False,
    ),
    yaxis2=dict(
        domain=[fy(1131), fy(357)], anchor="x2", automargin=False,
        range=[225.8, 296], visible=False,
    ),
)

shapes = [
    # frame of the magnified panel (runs off the right edge)
    dict(type="rect", xref="paper", yref="paper", layer="above",
         x0=fx(1637), x1=1.02, y0=fy(1131), y1=fy(357),
         line=dict(color="black", width=7)),
    # legend box
    dict(type="rect", xref="paper", yref="paper", layer="above",
         x0=fx(195.5), x1=fx(2234), y0=fy(149), y1=fy(11),
         line=dict(color="black", width=3.5), fillcolor="white"),
    # legend keys
    dict(type="line", xref="paper", yref="paper", layer="above",
         x0=fx(224), x1=fx(289), y0=fy(47), y1=fy(47),
         line=dict(color=DARKRED, width=4)),
    dict(type="line", xref="paper", yref="paper", layer="above",
         x0=fx(224), x1=fx(289), y0=fy(108), y1=fy(108),
         line=dict(color=BLUE, width=4)),
    dict(type="line", xref="paper", yref="paper", layer="above",
         x0=fx(1274), x1=fx(1343), y0=fy(47), y1=fy(47),
         line=dict(color="black", width=10)),
    # highlight rings around the quoted annual means
    dict(type="circle", xref="paper", yref="paper", layer="above",
         x0=fx(818), x1=fx(1085), y0=fy(269), y1=fy(-95),
         line=dict(color="#FF0000", width=15)),
    dict(type="circle", xref="paper", yref="paper", layer="above",
         x0=fx(2025), x1=fx(2233), y0=fy(164), y1=fy(-44),
         line=dict(color="#FF0000", width=15)),
]
fig.update_layout(shapes=shapes)

legend_font = dict(family=AXIS_FONT, size=43, color="black")
footer_font = dict(family="Lato", size=29, color="#8c8c8c")
annotations = [
    dict(text=legend_cesm1, x=fx(334), y=fy(47), xanchor="left", yanchor="middle",
         font=legend_font),
    dict(text=legend_cesm2, x=fx(334), y=fy(108), xanchor="left", yanchor="middle",
         font=legend_font),
    dict(text=legend_station, x=fx(1390), y=fy(47), xanchor="left", yanchor="middle",
         font=legend_font),
    dict(text="Temp (K)", x=fx(41), y=fy(535), textangle=-90,
         xanchor="center", yanchor="middle",
         font=dict(family=AXIS_FONT, size=50, color="black")),
    dict(text="PCWG 2023 - McIlhattan", x=fx(1168), y=fy(1104),
         xanchor="center", yanchor="middle", font=footer_font),
    dict(text="6", x=fx(2244), y=fy(1106), xanchor="center", yanchor="middle",
         font=footer_font),
]
for a in annotations:
    a.update(xref="paper", yref="paper", showarrow=False)
fig.update_layout(annotations=annotations)

fig.write_html("out.html")
